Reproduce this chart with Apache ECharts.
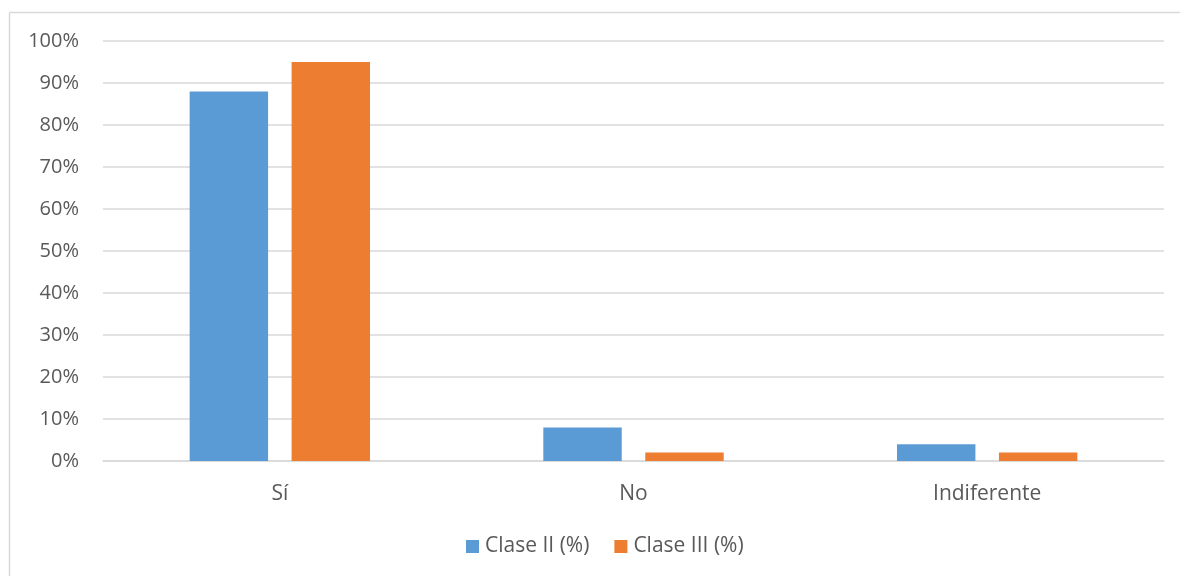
<!DOCTYPE html>
<html>
<head>
<meta charset="utf-8">
<script src="https://cdn.jsdelivr.net/npm/echarts@6/dist/echarts.min.js"></script>
<style>
  html, body { margin: 0; padding: 0; background: #fff; overflow: hidden; }
  #chart { width: 1180px; height: 576px; }
</style>
</head>
<body>
<div id="chart"></div>
<script>
// Categories and percentages per class
const categories = ['Sí', 'No', 'Indiferente'];
const claseII = [88, 8, 4];
const claseIII = [95, 2, 2];
const seriesNames = ['Clase II (%)', 'Clase III (%)'];
const yTicks = [0, 10, 20, 30, 40, 50, 60, 70, 80, 90, 100];

const FONT = 'Open Sans';
const frameStyle = { stroke: '#d9d9d9', lineWidth: 1.5 };
const chart = echarts.init(document.getElementById('chart'));
chart.setOption({
  backgroundColor: '#ffffff',
  animation: false,
  textStyle: { fontFamily: FONT },
  // chart-area frame: left and top edges (right and bottom run off the page)
  graphic: [
    { type: 'line', shape: { x1: 9.5, y1: 12.5, x2: 9.5, y2: 576 }, style: frameStyle, silent: true },
    { type: 'line', shape: { x1: 9.5, y1: 12.5, x2: 1180, y2: 12.5 }, style: frameStyle, silent: true }
  ],
  grid: { left: 103, right: 16, top: 41, bottom: 115, containLabel: false },
  legend: {
    data: seriesNames,
    bottom: 14,
    left: 461,
    itemWidth: 13,
    itemHeight: 13,
    itemGap: 25,
    icon: 'rect',
    textStyle: { color: '#595959', fontSize: 21, fontFamily: FONT, padding: [0, 0, 0, 1] }
  },
  xAxis: {
    type: 'category',
    data: categories,
    axisLine: { show: true, lineStyle: { color: '#d9d9d9', width: 1.5 } },
    axisTick: { show: false },
    axisLabel: { color: '#595959', fontSize: 21, margin: 23, fontFamily: FONT }
  },
  yAxis: {
    type: 'value',
    min: yTicks[0],
    max: yTicks[yTicks.length - 1],
    interval: 10,
    axisLine: { show: false },
    axisTick: { show: false },
    splitLine: { lineStyle: { color: '#d9d9d9', width: 1.5 } },
    axisLabel: { color: '#595959', fontSize: 20, margin: 24, fontFamily: FONT, formatter: '{value}%' }
  },
  series: [
    {
      name: seriesNames[0],
      type: 'bar',
      data: claseII,
      barGap: '30%',
      barCategoryGap: '49%',
      itemStyle: { color: '#5B9BD5' }
    },
    {
      name: seriesNames[1],
      type: 'bar',
      data: claseIII,
      barGap: '30%',
      barCategoryGap: '49%',
      itemStyle: { color: '#ED7D31' }
    }
  ]
});
</script>
</body>
</html>
